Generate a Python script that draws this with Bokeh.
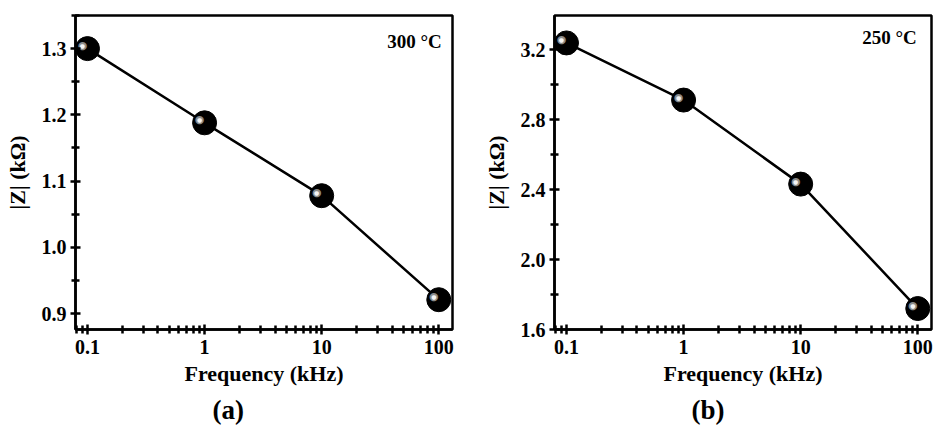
from bokeh.plotting import figure
from bokeh.models import Range1d, FixedTicker, Title, ColumnDataSource, Label
from bokeh.layouts import row
from bokeh.embed import file_html
from bokeh.resources import INLINE
from bokeh.core.properties import value

# ---- data ----
freq_khz = [0.1, 1, 10, 100]
z_300C = [1.300, 1.188, 1.078, 0.921]
z_250C = [3.240, 2.913, 2.432, 1.720]

x_ticks = [0.1, 1, 10, 100]
x_tick_labels = ["0.1", "1", "10", "100"]
y_ticks_a = [0.9, 1.0, 1.1, 1.2, 1.3]
y_minor_a = [0.85, 0.95, 1.05, 1.15, 1.25, 1.35]
y_ticks_b = [1.6, 2.0, 2.4, 2.8, 3.2]
y_minor_b = [1.8, 2.2, 2.6, 3.0, 3.4]
y_labels_a = ["0.9", "1.0", "1.1", "1.2", "1.3"]
y_labels_b = ["1.6", "2.0", "2.4", "2.8", "3.2"]
temps = ["300 °C", "250 °C"]
panel_tags = ["(a)", "(b)"]

FONT = "Liberation Serif"
x_minor = [m * 10.0 ** k for k in range(-2, 3) for m in range(2, 10)]


def make_panel(z, yr, yt, ym, ylabels, temp, temp_pos, tag, width, left, right):
    p = figure(width=width, height=432, x_axis_type="log",
               x_range=Range1d(0.079, 131), y_range=Range1d(*yr),
               output_backend="svg", toolbar_location=None,
               min_border_left=left, min_border_right=right,
               min_border_top=15, min_border_bottom=103)
    p.background_fill_color = "white"
    p.border_fill_color = "white"
    p.outline_line_color = "black"
    p.outline_line_width = 2.5
    p.grid.visible = False

    p.xaxis.ticker = FixedTicker(ticks=x_ticks, minor_ticks=x_minor)
    p.xaxis.major_label_overrides = {t: l for t, l in zip(x_ticks, x_tick_labels)}
    p.yaxis.ticker = FixedTicker(ticks=yt, minor_ticks=ym)
    p.yaxis.major_label_overrides = {t: l for t, l in zip(yt, ylabels)}

    for ax in (p.xaxis[0], p.yaxis[0]):
        ax.axis_line_width = 2.5
        ax.major_tick_line_width = 2.5
        ax.minor_tick_line_width = 2.5
        ax.major_tick_in = 5
        ax.major_tick_out = 5
        ax.minor_tick_in = 4
        ax.minor_tick_out = 4
        ax.major_label_text_font = FONT
        ax.major_label_text_font_style = "bold"
        ax.major_label_text_font_size = "20px"
        ax.major_label_text_color = "black"
        ax.axis_label_text_font = FONT
        ax.axis_label_text_font_style = "bold"
        ax.axis_label_text_font_size = "22px"
        ax.axis_label_text_color = "black"
    p.xaxis.axis_label = "Frequency (kHz)"
    p.yaxis.axis_label = "|Z| (kΩ)"
    p.xaxis.major_label_standoff = 5
    p.xaxis.axis_label_standoff = 4
    p.yaxis.major_label_standoff = 4
    p.yaxis.axis_label_standoff = 9

    src = ColumnDataSource(dict(x=freq_khz, y=z, dot=["●"] * len(z), dot2=["●"] * len(z)))
    p.line("x", "y", source=src, line_color="black", line_width=2.5)
    p.scatter("x", "y", source=src, size=24, fill_color="black", line_color="black")
    p.text("x", "y", text="dot", source=src, x_offset=-5, y_offset=-3,
           text_align="center", text_baseline="middle",
           text_font=value("DejaVu Sans"), text_font_size="11px", text_color="#8a8a8a")
    p.text("x", "y", text="dot2", source=src, x_offset=-5, y_offset=-3,
           text_align="center", text_baseline="middle",
           text_font=value("DejaVu Sans"), text_font_size="6px", text_color="#f4f4f4")

    p.add_layout(Label(x=temp_pos[0], y=temp_pos[1], text=temp, text_align="right",
                       text_baseline="alphabetic", text_font=FONT, text_font_style="bold",
                       text_font_size="19px", text_color="black"))
    p.add_layout(Title(text=tag, align="left", offset=137, standoff=8,
                       text_font=FONT, text_font_style="bold", text_font_size="27px",
                       text_color="black"), "below")
    return p


pa = make_panel(z_300C, (0.876, 1.35), y_ticks_a, y_minor_a, y_labels_a,
                temps[0], (106, 1.3106), panel_tags[0], 466, 75, 14)
pb = make_panel(z_250C, (1.6, 3.397), y_ticks_b, y_minor_b, y_labels_b,
                temps[1], (98, 3.273), panel_tags[1], 467, 88, 2)

layout = row(pa, pb)
open("out.html", "w").write(file_html(layout, INLINE))
